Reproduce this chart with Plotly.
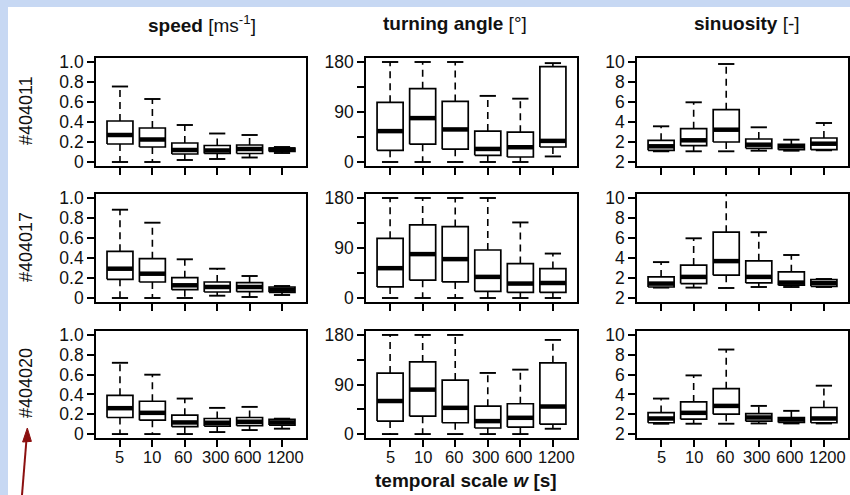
import plotly.graph_objects as go

# ---------------- data ----------------
scales = ["5", "10", "60", "300", "600", "1200"]
individuals = ["#404011", "#404017", "#404020"]
metrics = ["speed", "turning angle", "sinuosity"]

# each entry: [lower whisker, Q1, median, Q3, upper whisker]
speed_404011 = [[0.00, 0.18, 0.27, 0.41, 0.755], [0.00, 0.15, 0.225, 0.34, 0.63],
                [0.02, 0.08, 0.12, 0.19, 0.37], [0.03, 0.085, 0.115, 0.165, 0.285],
                [0.045, 0.085, 0.13, 0.17, 0.27], [0.09, 0.105, 0.125, 0.14, 0.15]]
speed_404017 = [[0.00, 0.187, 0.293, 0.467, 0.883], [0.00, 0.16, 0.243, 0.393, 0.753],
                [0.00, 0.083, 0.127, 0.203, 0.387], [0.023, 0.06, 0.11, 0.16, 0.293],
                [0.01, 0.063, 0.11, 0.153, 0.22], [0.03, 0.057, 0.083, 0.11, 0.12]]
speed_404020 = [[0.00, 0.167, 0.261, 0.391, 0.719], [0.00, 0.14, 0.214, 0.331, 0.599],
                [0.00, 0.074, 0.117, 0.19, 0.358], [0.02, 0.08, 0.114, 0.157, 0.264],
                [0.04, 0.084, 0.124, 0.167, 0.274], [0.054, 0.09, 0.117, 0.147, 0.155]]

turn_404011 = [[0, 21, 55.6, 107.5, 180], [0, 32, 79, 132, 180],
               [0, 23, 58.6, 109, 180], [0, 12, 23.5, 55.6, 119],
               [0, 9, 26.6, 53.7, 114], [10, 27, 38, 171.5, 178]]
turn_404017 = [[0, 20, 53.7, 107.5, 180], [0, 32, 79, 131.6, 180],
               [0, 29, 70, 128.6, 180], [0, 12, 38, 86.4, 180],
               [0, 10, 26, 62, 136], [0, 10, 27, 53, 80]]
turn_404020 = [[0, 23.5, 60, 110.8, 180], [0, 32.5, 80.7, 131, 180],
               [0, 20.5, 47.6, 98, 180], [0, 11, 23.5, 50.6, 111],
               [0, 12.6, 29.5, 55, 117], [9.6, 18, 50, 129.4, 171]]

sin_404011 = [[1.07, 1.17, 1.57, 2.17, 3.57], [1.07, 1.63, 2.17, 3.33, 5.97],
              [1.07, 2.0, 3.23, 5.23, 9.8], [1.13, 1.37, 1.73, 2.3, 3.47],
              [1.13, 1.23, 1.57, 1.77, 2.23], [1.17, 1.23, 1.83, 2.4, 3.9]]
sin_404017 = [[1.04, 1.1, 1.44, 2.11, 3.59], [1.04, 1.44, 2.11, 3.29, 5.97],
              [1.0, 2.28, 3.69, 6.58, 10.6], [1.1, 1.51, 2.11, 3.72, 6.58],
              [1.1, 1.28, 1.54, 2.62, 4.3], [1.1, 1.17, 1.5, 1.85, 1.9]]
sin_404020 = [[1.04, 1.14, 1.57, 2.17, 3.58], [1.04, 1.5, 2.14, 3.24, 5.92],
              [1.04, 2.0, 2.84, 4.58, 8.53], [1.07, 1.3, 1.67, 2.07, 2.84],
              [1.07, 1.17, 1.47, 1.67, 2.34], [1.07, 1.14, 1.57, 2.68, 4.88]]

panels = [[speed_404011, turn_404011, sin_404011],
          [speed_404017, turn_404017, sin_404017],
          [speed_404020, turn_404020, sin_404020]]

speed_ticks = [0, 0.2, 0.4, 0.6, 0.8, 1.0]
speed_labels = ["0", "0.2", "0.4", "0.6", "0.8", "1.0"]
turn_ticks = [0, 90, 180]
turn_labels = ["0", "90", "180"]
turn_minor_ticks = [45, 135]
sin_ticks = [0, 2, 4, 6, 8, 10]
sin_labels = ["2", "2", "4", "6", "8", "10"]

# ---------------- layout helpers ----------------
W, H = 850, 495
FONT = "Liberation Sans, Arial, Helvetica, sans-serif"
TXT = "#111111"
col_px = [(96, 306), (366, 577), (637, 848)]
row_px = [(58, 166), (194, 302), (331, 438)]
y_ranges = [[-0.04, 1.04], [-7.2, 187.2], [-0.4, 10.4]]
y_tick = [(speed_ticks, speed_labels), (turn_ticks, turn_labels), (sin_ticks, sin_labels)]
BW, CW = 0.4, 0.25
# slight spreading of the bottom tick labels, as in the original figure
label_shift = [0, 0, -0.05, -0.05, -0.05, 0.12]

fig = go.Figure()
layout = dict(width=W, height=H, margin=dict(l=0, r=0, t=0, b=0, pad=0, autoexpand=False),
              autosize=False, paper_bgcolor="#c7d8f3", plot_bgcolor="white", showlegend=False,
              font=dict(family=FONT, color=TXT, size=16))
ann = []

k = 0
for r in range(3):
    for c in range(3):
        k += 1
        xa = "x" if k == 1 else f"x{k}"
        ya = "y" if k == 1 else f"y{k}"
        stats = panels[r][c]
        bx, by, mx, my, wx, wy, cx, cy = [], [], [], [], [], [], [], []
        for i, (lo, q1, md, q3, hi) in enumerate(stats):
            x = i + 1
            bx += [x - BW, x + BW, x + BW, x - BW, x - BW, None]
            by += [q1, q1, q3, q3, q1, None]
            mx += [x - BW, x + BW, None]
            my += [md, md, None]
            wx += [x, x, None, x, x, None]
            wy += [q3, hi, None, q1, lo, None]
            cx += [x - CW, x + CW, None, x - CW, x + CW, None]
            cy += [hi, hi, None, lo, lo, None]
        common = dict(xaxis=xa, yaxis=ya, mode="lines", hoverinfo="skip")
        fig.add_trace(go.Scatter(x=wx, y=wy, line=dict(color="black", width=1.6, dash="7px,5px"), **common))
        fig.add_trace(go.Scatter(x=cx, y=cy, line=dict(color="black", width=1.9), **common))
        fig.add_trace(go.Scatter(x=bx, y=by, fill="toself", fillcolor="white",
                                 line=dict(color="black", width=1.7), **common))
        fig.add_trace(go.Scatter(x=mx, y=my, line=dict(color="black", width=4.5), **common))

        x0, x1 = col_px[c]
        y0, y1 = row_px[r]
        axkey = "xaxis" if k == 1 else f"xaxis{k}"
        aykey = "yaxis" if k == 1 else f"yaxis{k}"
        layout[axkey] = dict(domain=[x0 / W, x1 / W], range=[0.26, 6.74], anchor=ya,
                             automargin=False,
                             tickmode="array", tickvals=list(range(1, 7)), ticktext=scales,
                             showticklabels=False,
                             ticks="outside", ticklen=7, tickwidth=1.5,
                             tickcolor="black", showline=True, linecolor="black", linewidth=1.7,
                             mirror=True, showgrid=False, zeroline=False, fixedrange=True)
        tv, tt = y_tick[c]
        yax = dict(domain=[1 - y1 / H, 1 - y0 / H], range=y_ranges[c], anchor=xa,
                   automargin=False,
                   tickmode="array", tickvals=tv, ticktext=tt, tickangle=0,
                   ticks="outside", ticklen=7, tickwidth=1.5, tickcolor="black",
                   showline=True, linecolor="black", linewidth=1.7, mirror=True,
                   showgrid=False, zeroline=False, fixedrange=True,
                   tickfont=dict(size=17.5, family=FONT, color=TXT))
        if c == 1:
            yax["minor"] = dict(tickmode="array", tickvals=turn_minor_ticks, ticks="outside",
                                ticklen=7, tickwidth=1.5, tickcolor="black", showgrid=False)
        layout[aykey] = yax

        # x tick labels on the bottom row, placed on the axis scale
        if r == 2:
            for i, lab in enumerate(scales):
                ann.append(dict(text=lab, x=i + 1 + label_shift[i], xref=xa,
                                y=1 - 457 / H, yref="paper", showarrow=False,
                                xanchor="center", yanchor="middle",
                                font=dict(size=16.5, family=FONT, color=TXT)))

fig.update_layout(**layout)

# white panel over the light-blue frame
fig.add_shape(type="rect", xref="paper", yref="paper", x0=8 / W, x1=1.01, y0=-0.01, y1=1 - 7 / H,
              fillcolor="white", line=dict(width=0), layer="below")

titles = ["<b>speed</b> [ms<sup>-1</sup>]", "<b>turning angle</b> [°]", "<b>sinuosity</b> [-]"]
title_x = [202, 455, 747]
for t, xp in zip(titles, title_x):
    ann.append(dict(text=t, x=xp / W, y=1 - 24 / H, xref="paper", yref="paper",
                    showarrow=False, xanchor="center", yanchor="middle",
                    font=dict(size=19, family=FONT, color=TXT)))
row_y = [111, 247, 383]
for lab, yp in zip(individuals, row_y):
    ann.append(dict(text=lab, x=26 / W, y=1 - yp / H, xref="paper", yref="paper",
                    showarrow=False, textangle=-90, xanchor="center", yanchor="middle",
                    font=dict(size=18, family=FONT, color=TXT)))
ann.append(dict(text="<b>temporal scale <i>w</i> [s]</b>", x=466 / W, y=1 - 480 / H,
                xref="paper", yref="paper", showarrow=False, xanchor="center", yanchor="middle",
                font=dict(size=19, family=FONT, color=TXT)))
fig.update_layout(annotations=ann)

# red arrow pointing at the bottom row label (shaft + head)
ARROW = "#8b1010"
fig.add_shape(type="line", xref="paper", yref="paper", x0=22 / W, y0=0, x1=26.6 / W, y1=1 - 438 / H,
              line=dict(color=ARROW, width=2))
fig.add_shape(type="path", xref="paper", yref="paper",
              path=f"M {27.3 / W} {1 - 428 / H} L {22.6 / W} {1 - 442 / H} L {31.4 / W} {1 - 441.4 / H} Z",
              fillcolor=ARROW, line=dict(color=ARROW, width=1))

fig.write_html("out.html", config={"displayModeBar": False},
               post_script="document.body.style.margin='0';document.body.style.overflow='hidden';")
